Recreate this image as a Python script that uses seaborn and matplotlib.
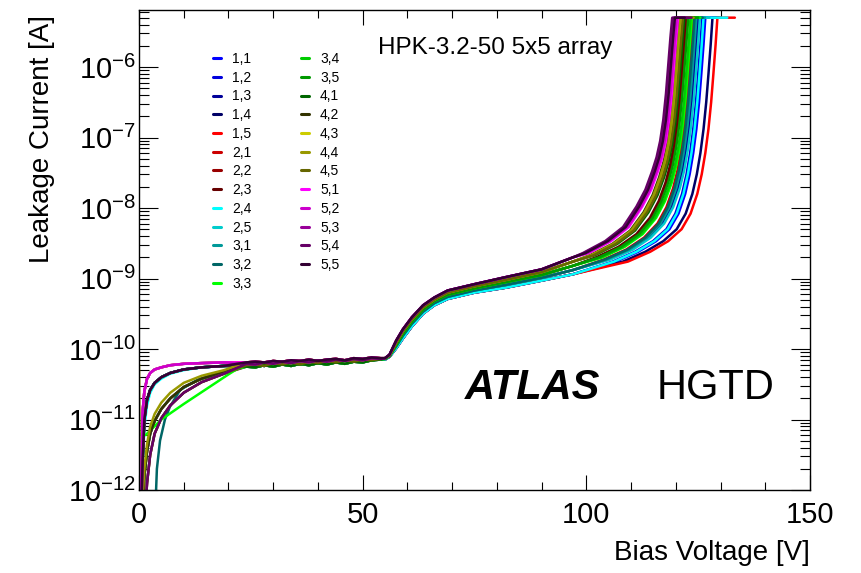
"""Leakage current vs bias voltage for the HPK-3.2-50 5x5 array (ATLAS HGTD).
"""

import pandas as pd
import seaborn as sns
import matplotlib.pyplot as plt
from matplotlib.lines import Line2D
from matplotlib.ticker import MultipleLocator, LogLocator, NullFormatter

# pads of the 5x5 array and their line colours
pads = ["1,1", "1,2", "1,3", "1,4", "1,5", "2,1", "2,2", "2,3", "2,4", "2,5",
        "3,1", "3,2", "3,3", "3,4", "3,5", "4,1", "4,2", "4,3", "4,4", "4,5",
        "5,1", "5,2", "5,3", "5,4", "5,5"]
colors = ["#0000ff", "#0000dd", "#000099", "#000066", "#ff0000",
          "#cc0000", "#990000", "#660000", "#00ffff", "#00cccc",
          "#009999", "#006666", "#00ff00", "#00cc00", "#009900",
          "#006600", "#333300", "#cccc00", "#999900", "#666600",
          "#ff00ff", "#cc00cc", "#990099", "#660066", "#330033"]

# low voltage turn-on, (bias [V], log10 current [A])
low_fast = [(0, -13.0), (0.4, -12.4), (0.8, -10.9), (1.2, -10.6), (1.8, -10.42), (2.5, -10.34),
            (3.5, -10.29), (5, -10.26), (7, -10.23), (10, -10.21), (14, -10.2), (19, -10.19)]
low_mid = [(0, -13.0), (0.4, -12.6), (0.8, -11.6), (1.2, -11.0), (1.8, -10.72), (2.5, -10.58),
           (3.5, -10.48), (5, -10.4), (7, -10.34), (10, -10.29), (14, -10.26), (19, -10.24)]
low_slow = [(0, -13.0), (0.4, -13.0), (0.8, -12.3), (1.2, -11.8), (1.8, -11.45), (2.5, -11.2),
            (3.5, -11.02), (5, -10.85), (7, -10.7), (10, -10.54), (14, -10.42), (19, -10.32)]
low_slower = [(0, -13.0), (0.8, -13.0), (1.2, -12.5), (1.8, -11.9), (2.5, -11.5), (3.5, -11.2),
              (5, -10.98), (7, -10.8), (10, -10.62), (14, -10.47), (19, -10.35)]
low_teal = [(0, -13.0), (3.4, -13.0), (3.7, -12.2), (4.0, -11.7), (4.7, -11.3), (5.8, -11.0),
            (6.9, -10.82), (9.2, -10.58), (13, -10.44), (19, -10.33)]
low_green = [(0, -11.2), (1.5, -11.22), (5, -11.0), (10, -10.78), (15, -10.57), (20, -10.36),
             (22, -10.28)]
low_olive = [(0, -10.22), (0.3, -12.9), (0.8, -12.1), (1.2, -11.7), (1.8, -11.35), (2.5, -11.1),
             (3.5, -10.92), (5, -10.76), (7, -10.62), (10, -10.48), (14, -10.38), (19, -10.3)]
low_cyan = [(0, -10.9), (0.3, -12.8), (0.8, -11.7), (1.2, -11.1), (1.8, -10.8), (2.5, -10.62),
            (3.5, -10.5), (5, -10.42), (7, -10.35), (10, -10.3), (14, -10.26), (19, -10.24)]
low_profiles = {"fast": low_fast, "mid": low_mid, "slow": low_slow, "slower": low_slower,
                "teal": low_teal, "green": low_green, "olive": low_olive, "cyan": low_cyan}

# noisy plateau before full depletion of the gain layer
plat_v = [24, 26, 28, 30, 32, 34, 36, 38, 40, 42, 44, 46, 48, 50, 52, 54]
plat_1 = [-10.19, -10.18, -10.19, -10.17, -10.18, -10.16, -10.17, -10.15,
          -10.17, -10.15, -10.14, -10.16, -10.13, -10.14, -10.12, -10.13]
plat_2 = [-10.21, -10.22, -10.19, -10.21, -10.18, -10.20, -10.17, -10.19,
          -10.16, -10.18, -10.15, -10.17, -10.14, -10.16, -10.13, -10.14]
plat_3 = [-10.23, -10.22, -10.24, -10.20, -10.22, -10.19, -10.22, -10.18,
          -10.20, -10.17, -10.19, -10.16, -10.18, -10.15, -10.16, -10.14]
plat_4 = [-10.25, -10.26, -10.23, -10.25, -10.22, -10.24, -10.21, -10.23,
          -10.20, -10.22, -10.19, -10.21, -10.18, -10.19, -10.16, -10.15]
plateaus = {1: plat_1, 2: plat_2, 3: plat_3, 4: plat_4}

# depletion step and bulk region, five bands from top (purple) to bottom (red)
mid_v = [55, 56, 57.5, 59, 61, 63.5, 66, 69, 75, 82, 90, 97]
mid_t0 = [-10.13, -10.08, -9.88, -9.72, -9.55, -9.38, -9.27, -9.17, -9.08, -8.98, -8.87, -8.70]
mid_t1 = [-10.13, -10.09, -9.91, -9.75, -9.58, -9.41, -9.30, -9.20, -9.11, -9.02, -8.91, -8.76]
mid_t2 = [-10.14, -10.10, -9.94, -9.78, -9.61, -9.44, -9.32, -9.23, -9.14, -9.05, -8.95, -8.82]
mid_t3 = [-10.14, -10.10, -9.96, -9.81, -9.64, -9.47, -9.35, -9.26, -9.17, -9.09, -8.99, -8.88]
mid_t4 = [-10.15, -10.11, -9.99, -9.85, -9.68, -9.50, -9.38, -9.29, -9.20, -9.13, -9.03, -8.94]
mids = {0: mid_t0, 1: mid_t1, 2: mid_t2, 3: mid_t3, 4: mid_t4}

# breakdown knee up to the 5 uA compliance, then flat
knee_t0 = [-8.64, -8.47, -8.27, -7.98, -7.74, -7.48, -7.28, -7.05, -6.75, -6.38, -5.98, -5.58, -5.30, -5.30]
knee_t1 = [-8.67, -8.51, -8.32, -8.06, -7.82, -7.56, -7.34, -7.09, -6.78, -6.41, -6.01, -5.60, -5.30, -5.30]
knee_t2 = [-8.70, -8.55, -8.37, -8.14, -7.90, -7.64, -7.40, -7.13, -6.81, -6.44, -6.04, -5.63, -5.30, -5.30]
knee_t3 = [-8.73, -8.59, -8.42, -8.22, -7.99, -7.72, -7.46, -7.17, -6.84, -6.47, -6.07, -5.65, -5.30, -5.30]
knee_t4 = [-8.76, -8.62, -8.47, -8.30, -8.08, -7.80, -7.52, -7.22, -6.88, -6.50, -6.10, -5.68, -5.30, -5.30]
knees = {0: knee_t0, 1: knee_t1, 2: knee_t2, 3: knee_t3, 4: knee_t4}

knee_v = [
    [106.6, 111.6, 115.6, 118.6, 120.6, 122.1, 123.1, 123.9, 124.6, 125.2, 125.7, 126.2, 126.6, 129.5],  # 1,1
    [105.9, 110.9, 114.9, 117.9, 119.9, 121.4, 122.4, 123.2, 123.9, 124.5, 125.0, 125.5, 125.9, 128.0],  # 1,2
    [105.0, 110.0, 114.0, 117.0, 119.0, 120.5, 121.5, 122.3, 123.0, 123.6, 124.1, 124.6, 125.0, 127.0],  # 1,3
    [108.2, 113.2, 117.2, 120.2, 122.2, 123.7, 124.7, 125.5, 126.2, 126.8, 127.3, 127.8, 128.2, 130.0],  # 1,4
    [109.3, 114.3, 118.3, 121.3, 123.3, 124.8, 125.8, 126.6, 127.3, 127.9, 128.4, 128.9, 129.3, 133.2],  # 1,5
    [103.9, 108.9, 112.9, 115.9, 117.9, 119.4, 120.4, 121.2, 121.9, 122.5, 123.0, 123.5, 123.9, 126.0],  # 2,1
    [102.5, 107.5, 111.5, 114.5, 116.5, 118.0, 119.0, 119.8, 120.5, 121.1, 121.6, 122.1, 122.5, 125.0],  # 2,2
    [102.2, 107.2, 111.2, 114.2, 116.2, 117.7, 118.7, 119.5, 120.2, 120.8, 121.3, 121.8, 122.2, 124.5],  # 2,3
    [106.2, 111.2, 115.2, 118.2, 120.2, 121.7, 122.7, 123.5, 124.2, 124.8, 125.3, 125.8, 126.2, 131.5],  # 2,4
    [105.4, 110.4, 114.4, 117.4, 119.4, 120.9, 121.9, 122.7, 123.4, 124.0, 124.5, 125.0, 125.4, 127.5],  # 2,5
    [104.6, 109.6, 113.6, 116.6, 118.6, 120.1, 121.1, 121.9, 122.6, 123.2, 123.7, 124.2, 124.6, 126.5],  # 3,1
    [104.2, 109.2, 113.2, 116.2, 118.2, 119.7, 120.7, 121.5, 122.2, 122.8, 123.3, 123.8, 124.2, 126.0],  # 3,2
    [103.6, 108.6, 112.6, 115.6, 117.6, 119.1, 120.1, 120.9, 121.6, 122.2, 122.7, 123.2, 123.6, 125.5],  # 3,3
    [103.3, 108.3, 112.3, 115.3, 117.3, 118.8, 119.8, 120.6, 121.3, 121.9, 122.4, 122.9, 123.3, 125.0],  # 3,4
    [102.8, 107.8, 111.8, 114.8, 116.8, 118.3, 119.3, 120.1, 120.8, 121.4, 121.9, 122.4, 122.8, 125.0],  # 3,5
    [101.9, 106.9, 110.9, 113.9, 115.9, 117.4, 118.4, 119.2, 119.9, 120.5, 121.0, 121.5, 121.9, 124.0],  # 4,1
    [100.8, 105.8, 109.8, 112.8, 114.8, 116.3, 117.3, 118.1, 118.8, 119.4, 119.9, 120.4, 120.8, 123.0],  # 4,2
    [101.3, 106.3, 110.3, 113.3, 115.3, 116.8, 117.8, 118.6, 119.3, 119.9, 120.4, 120.9, 121.3, 123.0],  # 4,3
    [101.0, 106.0, 110.0, 113.0, 115.0, 116.5, 117.5, 118.3, 119.0, 119.6, 120.1, 120.6, 121.0, 124.0],  # 4,4
    [101.6, 106.6, 110.6, 113.6, 115.6, 117.1, 118.1, 118.9, 119.6, 120.2, 120.7, 121.2, 121.6, 123.5],  # 4,5
    [100.5, 105.5, 109.5, 112.5, 114.5, 116.0, 117.0, 117.8, 118.5, 119.1, 119.6, 120.1, 120.5, 122.0],  # 5,1
    [100.2, 105.2, 109.2, 112.2, 114.2, 115.7, 116.7, 117.5, 118.2, 118.8, 119.3, 119.8, 120.2, 122.0],  # 5,2
    [99.5, 104.5, 108.5, 111.5, 113.5, 115.0, 116.0, 116.8, 117.5, 118.1, 118.6, 119.1, 119.5, 122.5],   # 5,3
    [99.2, 104.2, 108.2, 111.2, 113.2, 114.7, 115.7, 116.5, 117.2, 117.8, 118.3, 118.8, 119.2, 123.5],   # 5,4
    [99.8, 104.8, 108.8, 111.8, 113.8, 115.3, 116.3, 117.1, 117.8, 118.4, 118.9, 119.4, 119.8, 122.0],   # 5,5
]

pad_low = ["mid", "fast", "mid", "mid", "fast", "slow", "slow", "slower", "cyan", "mid",
           "slow", "teal", "green", "mid", "mid", "mid", "slow", "fast", "olive", "slower",
           "fast", "fast", "mid", "slower", "mid"]
pad_plat = [3, 2, 3, 4, 1, 3, 2, 4, 2, 3, 4, 3, 4, 2, 3, 4, 1, 2, 1, 3, 1, 2, 1, 2, 1]
pad_tier = [4, 4, 3, 4, 4, 3, 2, 2, 4, 3, 3, 3, 2, 2, 2, 1, 1, 1, 1, 1, 0, 0, 0, 0, 0]


def build_frame():
    rows = []
    for i, pad in enumerate(pads):
        pts = (low_profiles[pad_low[i]]
               + list(zip(plat_v, plateaus[pad_plat[i]]))
               + list(zip(mid_v, mids[pad_tier[i]]))
               + list(zip(knee_v[i], knees[pad_tier[i]])))
        for v, lg in pts:
            rows.append({"pad": pad, "bias": v, "current": 10.0 ** lg})
    return pd.DataFrame(rows)


def make_figure(df):
    sns.set_style("ticks")
    plt.rcParams["font.family"] = ["Liberation Sans", "DejaVu Sans"]
    plt.rcParams["mathtext.default"] = "regular"
    for key in ["text.color", "axes.labelcolor", "xtick.color", "ytick.color", "axes.edgecolor"]:
        plt.rcParams[key] = "black"

    fig = plt.figure(figsize=(8.61, 5.73), dpi=100)
    ax = fig.add_axes([139 / 861, 1 - 490 / 573, 671 / 861, 480 / 573])
    ax.set_yscale("log")

    sns.lineplot(data=df, x="bias", y="current", hue="pad", hue_order=pads,
                 palette=dict(zip(pads, colors)), estimator=None, sort=False,
                 lw=1.8, legend=False, ax=ax)

    ax.set_xlim(0, 150)
    ax.set_ylim(1e-12, 6.44e-6)
    ax.set_xlabel("")
    ax.set_ylabel("")
    ax.xaxis.set_major_locator(MultipleLocator(50))
    ax.xaxis.set_minor_locator(MultipleLocator(10))
    ax.yaxis.set_major_locator(LogLocator(base=10, numticks=20))
    ax.yaxis.set_minor_locator(LogLocator(base=10, subs=range(2, 10), numticks=200))
    ax.yaxis.set_minor_formatter(NullFormatter())
    for s in ax.spines.values():
        s.set_linewidth(1.0)
        s.set_visible(True)
    ax.tick_params(which="both", direction="in", top=True, right=True, width=0.8,
                   colors="black", labelsize=21)
    ax.tick_params(axis="x", which="major", length=11, pad=8)
    ax.tick_params(axis="x", which="minor", length=5.5)
    ax.tick_params(axis="y", which="major", length=14, pad=2)
    ax.tick_params(axis="y", which="minor", length=7)

    fig.text(810 / 861, 1 - 553 / 573, "Bias Voltage [V]", fontsize=20, ha="right", va="center")
    fig.text(42 / 861, 1 - 15 / 573, "Leakage Current [A]", fontsize=20, rotation=90,
             ha="center", va="top")
    fig.text(378 / 861, 1 - 48 / 573, "HPK-3.2-50 5x5 array", fontsize=17.5, va="center")
    fig.text(465 / 861, 1 - 388 / 573, "ATLAS", fontsize=30, fontweight="bold",
             fontstyle="italic", va="center")
    fig.text(657 / 861, 1 - 388 / 573, "HGTD", fontsize=30, va="center")

    handles = [Line2D([0], [0], color=c, lw=2.2) for c in colors]
    ax.legend(handles, pads, loc="upper left", bbox_to_anchor=(213 / 861, 1 - 52 / 573),
              bbox_transform=fig.transFigure, ncol=2, frameon=False, fontsize=10,
              handlelength=0.6, handletextpad=0.8, columnspacing=3.5,
              labelspacing=0.34, borderpad=0, borderaxespad=0)

    fig.savefig("out.png", dpi=100)


def main():
    df = build_frame()
    make_figure(df)


if __name__ == "__main__":
    main()
